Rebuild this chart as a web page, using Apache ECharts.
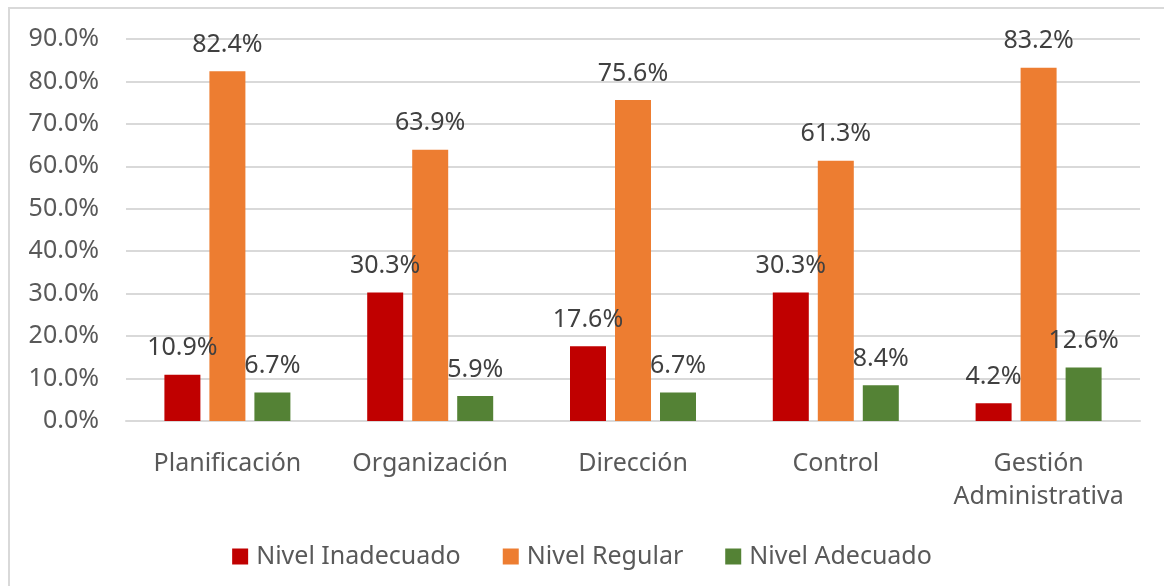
<!DOCTYPE html>
<html>

<head>
    <meta charset="UTF-8">
    <style type="text/css">
        body {
            margin: 0;
            padding: 0;
            overflow: hidden;
            background: #fff;
        }

        #frame {
            position: absolute;
            left: 8px;
            top: 7px;
            width: 1200px;
            height: 620px;
            border-left: 2px solid #d9d9d9;
            border-top: 2px solid #d9d9d9;
        }

        #chart {
            position: absolute;
            left: 0;
            top: 0;
            width: 1164px;
            height: 586px;
        }
    </style>
</head>

<body>
    <div id="frame"></div>
    <div id="chart"></div>
    <script src="https://cdn.jsdelivr.net/npm/echarts@6/dist/echarts.min.js"></script>
    <script>
        let categories = ['Planificación', 'Organización', 'Dirección', 'Control', 'Gestión\nAdministrativa'];
        let inadecuado = [10.9, 30.3, 17.6, 30.3, 4.2];
        let regular = [82.4, 63.9, 75.6, 61.3, 83.2];
        let adecuado = [6.7, 5.9, 6.7, 8.4, 12.6];

        let FONT = '"Noto Sans", sans-serif';
        var myChart = echarts.init(document.getElementById('chart'));

        function bar(name, data, color) {
            return {
                name: name,
                type: 'bar',
                data: data,
                barWidth: 36,
                barGap: '25%',
                itemStyle: { color: color },
                label: {
                    show: true,
                    position: 'top',
                    distance: 14,
                    color: '#404040',
                    fontSize: 25,
                    fontFamily: FONT,
                    formatter: function (p) {
                        return p.value.toFixed(1) + '%';
                    }
                }
            };
        }

        let option = {
            animation: false,
            grid: {
                left: 126,
                right: 24,
                top: 39,
                bottom: 165
            },
            legend: {
                bottom: 12,
                left: 'center',
                itemWidth: 16,
                itemHeight: 16,
                itemGap: 42,
                icon: 'rect',
                textStyle: {
                    color: '#595959',
                    fontSize: 25,
                    fontFamily: FONT,
                    padding: [0, 0, 0, 3]
                },
                data: ['Nivel Inadecuado', 'Nivel Regular', 'Nivel Adecuado']
            },
            xAxis: {
                type: 'category',
                data: categories,
                axisLine: { lineStyle: { color: '#d9d9d9', width: 2 } },
                axisTick: { show: false },
                axisLabel: {
                    color: '#595959',
                    fontSize: 25,
                    fontFamily: FONT,
                    margin: 26,
                    lineHeight: 33,
                    interval: 0
                }
            },
            yAxis: {
                type: 'value',
                min: 0,
                max: 90,
                interval: 10,
                axisLine: { show: false },
                axisTick: { show: false },
                splitLine: { lineStyle: { color: '#d9d9d9', width: 2 } },
                axisLabel: {
                    color: '#595959',
                    fontSize: 25,
                    fontFamily: FONT,
                    margin: 27,
                    formatter: function (v) {
                        return v.toFixed(1) + '%';
                    }
                }
            },
            series: [
                bar('Nivel Inadecuado', inadecuado, '#C00000'),
                bar('Nivel Regular', regular, '#ED7D31'),
                bar('Nivel Adecuado', adecuado, '#548235')
            ]
        };
        myChart.setOption(option);
    </script>
</body>

</html>
